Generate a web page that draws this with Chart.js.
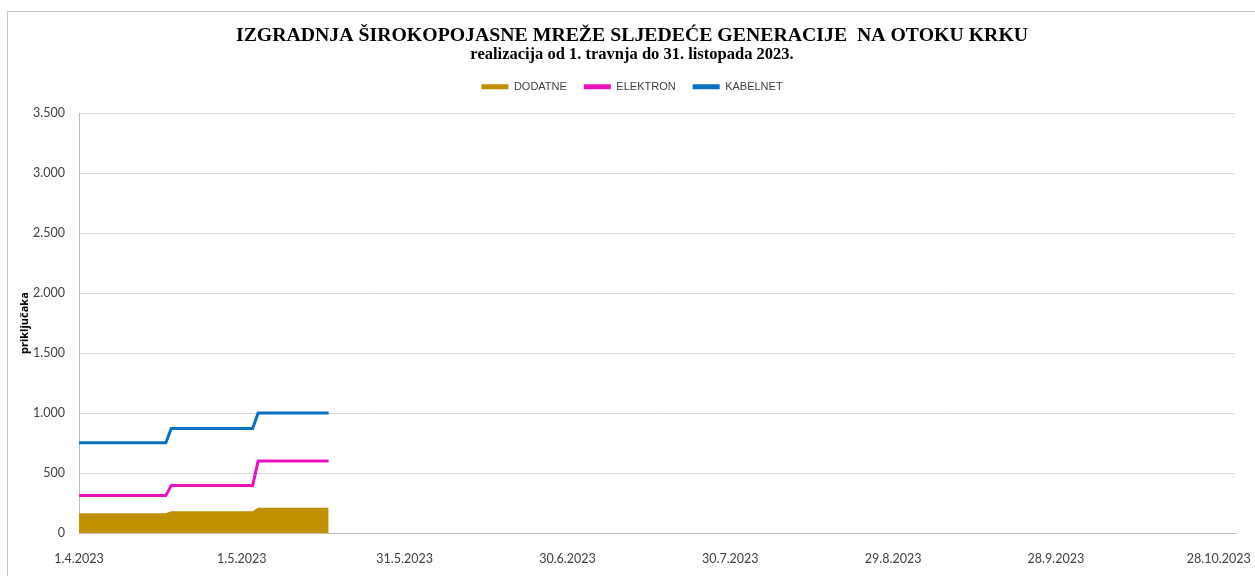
<!DOCTYPE html>
<html>
<head>
<meta charset="utf-8">
<script src="https://cdn.jsdelivr.net/npm/chart.js@4.4.0/dist/chart.umd.min.js"></script>
<style>
  html, body { margin: 0; padding: 0; background: #fff; overflow: hidden; }
  #wrap { position: relative; width: 1255px; height: 576px; }
  #frame { position: absolute; left: 7px; top: 11px; width: 1300px; height: 700px; border: 1px solid #c6c6c6; }
  #chart { position: absolute; left: 0; top: 0; }
</style>
</head>
<body>
<div id="wrap">
  <div id="frame"></div>
  <canvas id="chart" width="1255" height="576"></canvas>
</div>
<script>
// dates where the values change (d.m.yyyy)
const dates = ['1.4.2023', '17.4.2023', '18.4.2023', '3.5.2023', '4.5.2023', '17.5.2023'];
const dodatne = [165, 165, 181, 181, 211, 211];
const elektron = [312, 312, 397, 397, 600, 600];
const kabelnet = [752, 752, 872, 872, 1000, 1000];

const tickLabels = ['1.4.2023', '1.5.2023', '31.5.2023', '30.6.2023', '30.7.2023', '29.8.2023', '28.9.2023', '28.10.2023'];
const axisEnd = '31.10.2023';

// days since 1.4.2023
function dayOf(s) {
    const [d, m, y] = s.split('.').map(Number);
    return Math.round((Date.UTC(y, m - 1, d) - Date.UTC(2023, 3, 1)) / 86400000);
}

function toPoints(values) {
    return dates.map((d, i) => ({ x: dayOf(d), y: values[i] }));
}

function thousands(v) {
    return String(v).replace(/\B(?=(\d{3})+(?!\d))/g, '.');
}

const ctx = document.getElementById('chart').getContext('2d');
const chart = new Chart(ctx, {
    type: 'line',
    data: {
        datasets: [
            {
                label: 'DODATNE',
                data: toPoints(dodatne),
                borderColor: '#BF9000',
                backgroundColor: '#BF9000',
                borderWidth: 0,
                fill: 'origin',
                pointRadius: 0
            },
            {
                label: 'ELEKTRON',
                data: toPoints(elektron),
                borderColor: '#E912BE',
                backgroundColor: '#E912BE',
                borderWidth: 3,
                fill: false,
                pointRadius: 0
            },
            {
                label: 'KABELNET',
                data: toPoints(kabelnet),
                borderColor: '#0A71C2',
                backgroundColor: '#0A71C2',
                borderWidth: 3,
                fill: false,
                pointRadius: 0
            }
        ]
    },
    options: {
        responsive: false,
        animation: false,
        layout: { padding: { top: 10, left: 7, right: -2, bottom: 0 } },
        plugins: {
            title: {
                display: true,
                text: 'IZGRADNJA ŠIROKOPOJASNE MREŽE SLJEDEĆE GENERACIJE  NA OTOKU KRKU',
                color: '#000',
                font: { family: 'Liberation Serif', size: 19.8, weight: 'bold', lineHeight: 1 },
                padding: { top: 16, bottom: 0 }
            },
            subtitle: {
                display: true,
                text: 'realizacija od 1. travnja do 31. listopada 2023.',
                color: '#000',
                font: { family: 'Liberation Serif', size: 16.5, weight: 'bold', lineHeight: 1 },
                padding: { top: 1, bottom: 1 }
            },
            legend: {
                labels: {
                    color: '#404040',
                    font: { family: 'Liberation Sans', size: 11 },
                    boxWidth: 27,
                    boxHeight: 5,
                    padding: 17,
                    generateLabels(chart) {
                        return Chart.defaults.plugins.legend.labels.generateLabels(chart).map(item => {
                            item.lineWidth = 0;
                            return item;
                        });
                    }
                }
            },
            tooltip: { enabled: false }
        },
        scales: {
            x: {
                type: 'linear',
                min: 0,
                max: dayOf(axisEnd),
                afterBuildTicks(scale) {
                    scale.ticks = tickLabels.map(l => ({ value: dayOf(l) }));
                },
                afterFit(scale) {
                    scale.height = 43;
                    scale.paddingRight = 20;
                },
                ticks: {
                    color: '#404040',
                    font: { family: 'Lato', size: 12.5 },
                    padding: 10,
                    maxRotation: 0,
                    autoSkip: false,
                    callback: v => tickLabels.find(l => dayOf(l) === v)
                },
                grid: { display: false },
                border: { display: true, color: '#bdbdbd' }
            },
            y: {
                min: 0,
                max: 3500,
                afterFit(scale) {
                    scale.width = 72;
                },
                ticks: {
                    stepSize: 500,
                    color: '#404040',
                    font: { family: 'Lato', size: 12.5 },
                    padding: 14,
                    callback: v => thousands(v)
                },
                grid: { color: '#d9d9d9', drawTicks: false },
                border: { display: true, color: '#bdbdbd' },
                title: {
                    display: true,
                    text: 'priključaka',
                    color: '#000',
                    font: { family: 'Open Sans', size: 11, weight: 'bold' },
                    padding: { top: 11, bottom: 0 }
                }
            }
        }
    }
});

// extra gap between the legend and the plot area
const legendFit = chart.legend.fit;
chart.legend.fit = function () {
    legendFit.call(this);
    this.height += 11;
};
chart.update();
</script>
</body>
</html>
